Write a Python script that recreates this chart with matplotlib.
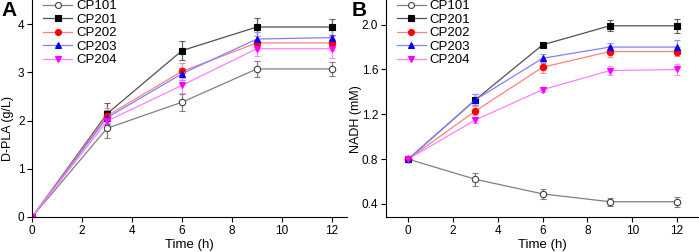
import numpy as np
import matplotlib.pyplot as plt
from matplotlib.lines import Line2D

plt.rcParams['font.family'] = ['Liberation Sans', 'DejaVu Sans']

time = [0, 3, 6, 9, 12]
strains = ['CP101', 'CP201', 'CP202', 'CP203', 'CP204']

# D-PLA (g/L)
pla = {
    'CP101': [0, 1.84, 2.38, 3.07, 3.07],
    'CP201': [0, 2.14, 3.45, 3.94, 3.94],
    'CP202': [0, 2.10, 3.02, 3.61, 3.61],
    'CP203': [0, 2.06, 2.97, 3.69, 3.72],
    'CP204': [0, 1.99, 2.73, 3.49, 3.49],
}
pla_err = {
    'CP101': [0, 0.21, 0.18, 0.16, 0.15],
    'CP201': [0, 0.22, 0.20, 0.19, 0.17],
    'CP202': [0, 0.15, 0.17, 0.15, 0.15],
    'CP203': [0, 0.15, 0.12, 0.15, 0.15],
    'CP204': [0, 0.15, 0.15, 0.15, 0.20],
}
# NADH (mM)
nadh = {
    'CP101': [0.80, 0.62, 0.49, 0.42, 0.42],
    'CP201': [0.80, 1.33, 1.82, 1.99, 1.99],
    'CP202': [0.80, 1.23, 1.62, 1.76, 1.76],
    'CP203': [0.80, 1.33, 1.70, 1.80, 1.80],
    'CP204': [0.80, 1.15, 1.42, 1.59, 1.60],
}
nadh_err = {
    'CP101': [0.01, 0.06, 0.045, 0.035, 0.045],
    'CP201': [0.01, 0.05, 0.02, 0.05, 0.06],
    'CP202': [0.01, 0.04, 0.05, 0.05, 0.04],
    'CP203': [0.01, 0.05, 0.04, 0.04, 0.06],
    'CP204': [0.01, 0.03, 0.02, 0.04, 0.05],
}

style = {
    'CP101': dict(line='#808080', mk='o', mfc='white', mec='#404040', ecol='#808080'),
    'CP201': dict(line='#505050', mk='s', mfc='black', mec='black', ecol='#606060'),
    'CP202': dict(line='#ff8080', mk='o', mfc='red', mec='red', ecol='#ff9090'),
    'CP203': dict(line='#8080ff', mk='^', mfc='blue', mec='blue', ecol='#9090ff'),
    'CP204': dict(line='#ff80ff', mk='v', mfc='magenta', mec='magenta', ecol='#ff90ff'),
}

fig = plt.figure(figsize=(6.99, 2.52), dpi=100)
axA = fig.add_axes([0.046, 0.139, 0.450, 0.861])
axB = fig.add_axes([0.552, 0.139, 0.447, 0.861])

def draw(ax, data, err):
    handles = []
    for s in strains:
        st = style[s]
        ax.errorbar(time, data[s], yerr=err[s], color=st['line'], lw=0.9,
                    marker=st['mk'], ms=4.6, mfc=st['mfc'], mec=st['mec'], mew=0.8,
                    ecolor=st['ecol'], elinewidth=0.9, capsize=2.2, capthick=0.9)
        handles.append(Line2D([], [], color=st['line'], lw=0.9, marker=st['mk'],
                              ms=4.3, mfc=st['mfc'], mec=st['mec'], mew=0.8))
    for sp in ['top', 'right']:
        ax.spines[sp].set_visible(False)
    ax.tick_params(direction='out', labelsize=8.5, length=3.5, pad=2)
    ax.set_xticks([0, 2, 4, 6, 8, 10, 12])
    ax.set_xlabel('Time (h)', fontsize=9.5, labelpad=2)
    ax.legend(handles, strains, loc='upper left', frameon=False, fontsize=9.5,
              handlelength=2.2, labelspacing=0.1, borderaxespad=0.0, borderpad=0.0,
              handletextpad=0.3, bbox_to_anchor=(0.035, 1.0))

draw(axA, pla, pla_err)
axA.set_xlim(0, 12.6)
axA.set_ylim(0, 4.5)
axA.set_yticks([0, 1, 2, 3, 4])
axA.set_ylabel('D-PLA (g/L)', fontsize=9)
axA.yaxis.set_label_coords(-0.057, 0.41)

draw(axB, nadh, nadh_err)
axB.set_xlim(-1, 12.95)
axB.set_ylim(0.284, 2.22)
axB.set_yticks([0.4, 0.8, 1.2, 1.6, 2.0])
axB.set_yticklabels(['0.4', '0.8', '1.2', '1.6', '2.0'])
axB.set_ylabel('NADH (mM)', fontsize=9)
axB.yaxis.set_label_coords(-0.077, 0.45)

fig.text(0.002, 0.995, 'A', fontsize=15, fontweight='bold', va='top', ha='left')
fig.text(0.503, 0.995, 'B', fontsize=15, fontweight='bold', va='top', ha='left')

fig.savefig('out.png', dpi=100)
